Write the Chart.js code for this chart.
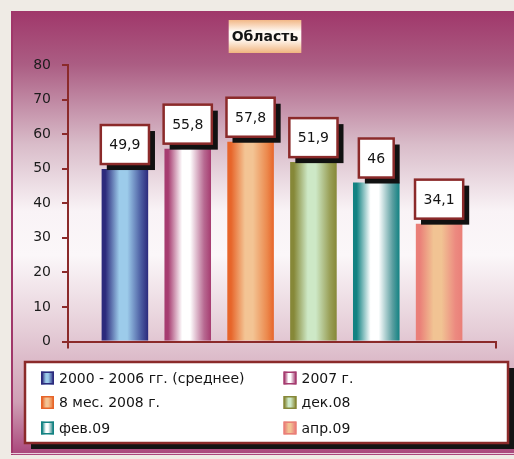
<!DOCTYPE html>
<html><head><meta charset="utf-8">
<script src="https://cdn.jsdelivr.net/npm/chart.js@4"></script>
<style>html,body{margin:0;padding:0;background:#efebe5;overflow:hidden}#wrap{width:514px;height:459px}canvas{display:block}</style>
</head><body>
<div id="wrap"><canvas id="c"></canvas></div>
<script>
// ---- data ----
const categories = ['Область'];
const seriesNames = ['2000 - 2006 гг. (среднее)', '2007 г.', '8 мес. 2008 г.', 'дек.08', 'фев.09', 'апр.09'];
const seriesValues = [49.9, 55.8, 57.8, 51.9, 46, 34.1];
const yTickValues = [0, 10, 20, 30, 40, 50, 60, 70, 80];
const chartTitle = 'Область';

// ---- styles ----
const edgeColors = ['#2c2a7c', '#a63c70', '#e7652a', '#868838', '#128282', '#ea7f78'];
const midColors  = ['#9ccbea', '#ffffff', '#f3c494', '#cde8c6', '#ffffff', '#f1c393'];
const rimColors  = ['#4a5aa0', '#b86a92', '#ec8a4e', '#9aa058', '#5a9ea0', '#ec8a80'];
const AXIS = '#8b2a2a';
const FONT = "'DejaVu Sans', Verdana, sans-serif";

function barGradient(ctx, x0, x1, i) {
  const g = ctx.createLinearGradient(x0, 0, x1, 0);
  g.addColorStop(0, edgeColors[i]);
  g.addColorStop(0.08, edgeColors[i]);
  g.addColorStop(0.38, midColors[i]);
  g.addColorStop(0.55, midColors[i]);
  g.addColorStop(0.85, rimColors[i]);
  g.addColorStop(1, edgeColors[i]);
  return g;
}

const bgPlugin = {
  id: 'bg',
  beforeDraw(chart) {
    const ctx = chart.ctx;
    ctx.save();
    ctx.fillStyle = '#efebe5';
    ctx.fillRect(0, 0, chart.width, chart.height);
    const g = ctx.createLinearGradient(0, 11, 0, 455);
    g.addColorStop(0, '#a0376a');
    g.addColorStop(0.12, '#ab5d83');
    g.addColorStop(0.3, '#d9bcc9');
    g.addColorStop(0.45, '#f9f3f6');
    g.addColorStop(0.55, '#fbf7f9');
    g.addColorStop(0.72, '#e5cdd7');
    g.addColorStop(0.88, '#cfa0b5');
    g.addColorStop(1, '#a9457a');
    ctx.fillStyle = g;
    ctx.fillRect(11, 11, chart.width - 11, 444);
    ctx.fillStyle = '#a0376a';
    ctx.fillRect(11, 11, 2, 444);
    ctx.fillStyle = '#e8d0dc';
    ctx.fillRect(11, 453, chart.width - 11, 1);
    // title box
    ctx.font = 'bold 14px ' + FONT;
    const tw = ctx.measureText(chartTitle).width;
    const bw = Math.max(tw + 6, 71), bh = 33;
    const cx = 265;
    const bx = cx - bw / 2, by = 20;
    const tg = ctx.createLinearGradient(0, by, 0, by + bh);
    tg.addColorStop(0, '#f2b888');
    tg.addColorStop(0.35, '#fffaf5');
    tg.addColorStop(0.6, '#fff6ee');
    tg.addColorStop(1, '#f0b47e');
    ctx.fillStyle = tg;
    ctx.fillRect(bx, by, bw, bh);
    ctx.fillStyle = '#141414';
    ctx.textAlign = 'center';
    ctx.textBaseline = 'middle';
    ctx.fillText(chartTitle, cx, by + bh / 2 + 1);
    ctx.restore();
  },
  beforeDatasetsDraw(chart) {
    chart.data.datasets.forEach((ds, i) => {
      const meta = chart.getDatasetMeta(i);
      meta.data.forEach(el => {
        const g = barGradient(chart.ctx, el.x - el.width / 2, el.x + el.width / 2, i);
        el.options = Object.assign({}, el.options, { backgroundColor: g });
      });
    });
  },
  afterDatasetsDraw(chart) {
    const ctx = chart.ctx;
    ctx.save();
    ctx.font = '14px ' + FONT;
    chart.data.datasets.forEach((ds, i) => {
      const el = chart.getDatasetMeta(i).data[0];
      const txt = String(ds.data[0]).replace('.', ',');
      const w = ctx.measureText(txt).width + 17;
      const h = 39;
      const left = el.x - w / 2;
      const top = el.y - 5 - h;
      ctx.fillStyle = '#111';
      ctx.fillRect(left + 6, top + 6, w, h);
      ctx.fillStyle = '#fff';
      ctx.fillRect(left, top, w, h);
      ctx.strokeStyle = AXIS;
      ctx.lineWidth = 2.5;
      ctx.strokeRect(left, top, w, h);
      ctx.fillStyle = '#141414';
      ctx.textAlign = 'center';
      ctx.textBaseline = 'middle';
      ctx.fillText(txt, el.x, top + h / 2 + 1);
    });
    ctx.restore();
  },
  afterDraw(chart) {
    const ctx = chart.ctx;
    ctx.save();
    const L = 25, T = 362, W = 483, H = 81;
    ctx.fillStyle = '#141414';
    ctx.fillRect(L + 6, T + 6, W, H);
    ctx.fillStyle = '#fff';
    ctx.fillRect(L, T, W, H);
    ctx.strokeStyle = AXIS;
    ctx.lineWidth = 2.5;
    ctx.strokeRect(L, T, W, H);
    ctx.font = '14px ' + FONT;
    ctx.textBaseline = 'middle';
    ctx.textAlign = 'left';
    const colX = [41, 283.5], rowY = [378, 402.5, 428];
    chart.data.datasets.forEach((ds, i) => {
      const x = colX[i % 2], y = rowY[Math.floor(i / 2)];
      const s = 13;
      ctx.fillStyle = barGradient(ctx, x, x + s, i);
      ctx.fillRect(x, y - s / 2, s, s);
      ctx.strokeStyle = edgeColors[i];
      ctx.lineWidth = 1.5;
      ctx.strokeRect(x + 0.75, y - s / 2 + 0.75, s - 1.5, s - 1.5);
      ctx.fillStyle = '#141414';
      ctx.fillText(ds.label, x + 18, y + 1);
    });
    ctx.restore();
  }
};

const datasets = seriesNames.map((name, i) => ({
  label: name,
  data: [seriesValues[i]],
  backgroundColor: edgeColors[i],
  borderWidth: 0,
  categoryPercentage: 0.881,
  barPercentage: 0.741
}));

new Chart(document.getElementById('c'), {
  type: 'bar',
  data: { labels: categories, datasets },
  options: {
    responsive: true,
    maintainAspectRatio: false,
    animation: false,
    devicePixelRatio: 1,
    layout: { padding: { top: 65, right: 18, bottom: 110.5, left: 0 } },
    plugins: { legend: { display: false }, title: { display: false }, tooltip: { enabled: false } },
    scales: {
      x: {
        offset: true,
        grid: { display: true, offset: true, drawOnChartArea: false, tickLength: 7, color: AXIS, lineWidth: 2 },
        border: { display: true, color: AXIS, width: 2 },
        ticks: { display: false },
        afterFit(s) { s.height = 7; }
      },
      y: {
        min: yTickValues[0],
        max: yTickValues[yTickValues.length - 1],
        afterBuildTicks(s) { s.ticks = yTickValues.map(v => ({ value: v })); },
        grid: { display: true, drawOnChartArea: false, tickLength: 6, color: AXIS, lineWidth: 2 },
        border: { display: true, color: AXIS, width: 2 },
        ticks: { padding: 11, color: '#1c1c1c', font: { family: FONT, size: 14 } },
        afterFit(s) { s.width = 68; }
      }
    }
  },
  plugins: [bgPlugin]
});
</script>
</body></html>
